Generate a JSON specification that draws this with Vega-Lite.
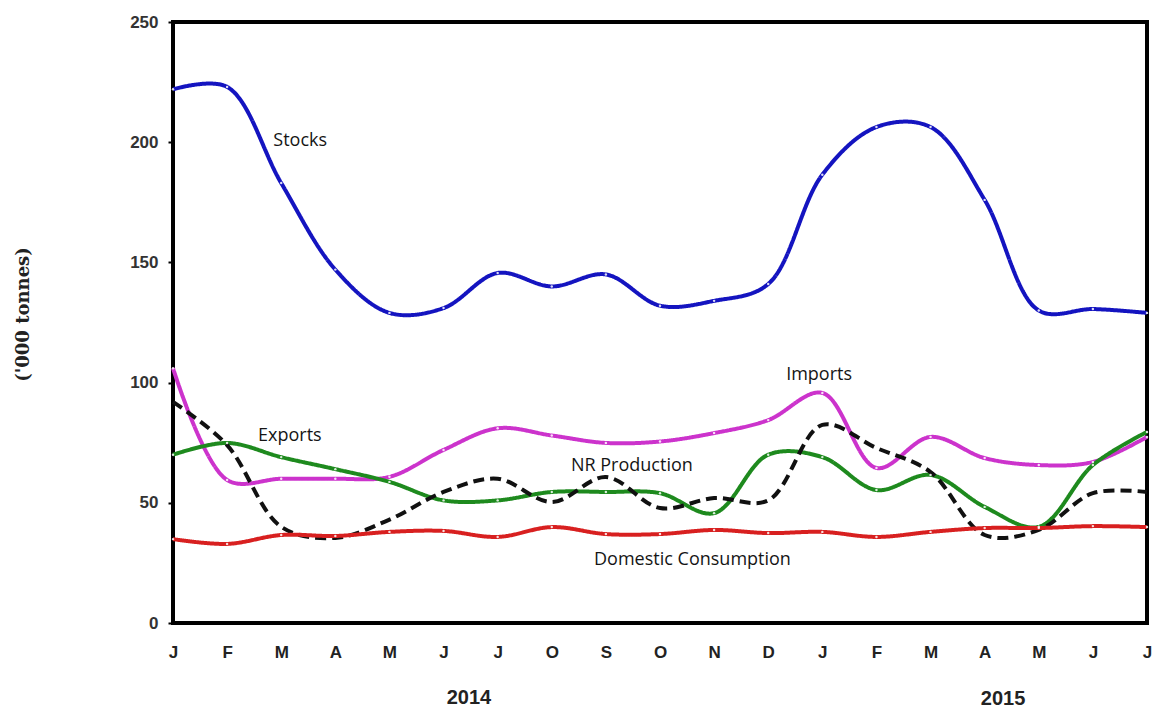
{
  "$schema": "https://vega.github.io/schema/vega-lite/v6.json",
  "width": 974,
  "height": 601,
  "autosize": {"type": "none"},
  "padding": {"left": 173, "top": 22, "right": 7, "bottom": 85},
  "background": "white",
  "config": {
    "view": {"stroke": "black", "strokeWidth": 4},
    "font": "Liberation Sans"
  },
  "datasets": {
    "series": [
      {"idx": 0, "series": "Stocks", "value": 222},
      {"idx": 1, "series": "Stocks", "value": 223},
      {"idx": 2, "series": "Stocks", "value": 183},
      {"idx": 3, "series": "Stocks", "value": 147},
      {"idx": 4, "series": "Stocks", "value": 129},
      {"idx": 5, "series": "Stocks", "value": 131},
      {"idx": 6, "series": "Stocks", "value": 145.6},
      {"idx": 7, "series": "Stocks", "value": 140},
      {"idx": 8, "series": "Stocks", "value": 145},
      {"idx": 9, "series": "Stocks", "value": 132},
      {"idx": 10, "series": "Stocks", "value": 134},
      {"idx": 11, "series": "Stocks", "value": 141},
      {"idx": 12, "series": "Stocks", "value": 186.5},
      {"idx": 13, "series": "Stocks", "value": 206.3},
      {"idx": 14, "series": "Stocks", "value": 206.3},
      {"idx": 15, "series": "Stocks", "value": 176},
      {"idx": 16, "series": "Stocks", "value": 130},
      {"idx": 17, "series": "Stocks", "value": 130.6},
      {"idx": 18, "series": "Stocks", "value": 129},
      {"idx": 0, "series": "Imports", "value": 106},
      {"idx": 1, "series": "Imports", "value": 59.5},
      {"idx": 2, "series": "Imports", "value": 60},
      {"idx": 3, "series": "Imports", "value": 60},
      {"idx": 4, "series": "Imports", "value": 60.8},
      {"idx": 5, "series": "Imports", "value": 72},
      {"idx": 6, "series": "Imports", "value": 81},
      {"idx": 7, "series": "Imports", "value": 78},
      {"idx": 8, "series": "Imports", "value": 74.9},
      {"idx": 9, "series": "Imports", "value": 75.5},
      {"idx": 10, "series": "Imports", "value": 79},
      {"idx": 11, "series": "Imports", "value": 84.4},
      {"idx": 12, "series": "Imports", "value": 95.7},
      {"idx": 13, "series": "Imports", "value": 64.5},
      {"idx": 14, "series": "Imports", "value": 77.4},
      {"idx": 15, "series": "Imports", "value": 68.6},
      {"idx": 16, "series": "Imports", "value": 65.7},
      {"idx": 17, "series": "Imports", "value": 67},
      {"idx": 18, "series": "Imports", "value": 77.4},
      {"idx": 0, "series": "Exports", "value": 70},
      {"idx": 1, "series": "Exports", "value": 74.9},
      {"idx": 2, "series": "Exports", "value": 69},
      {"idx": 3, "series": "Exports", "value": 64},
      {"idx": 4, "series": "Exports", "value": 58.7},
      {"idx": 5, "series": "Exports", "value": 51},
      {"idx": 6, "series": "Exports", "value": 51},
      {"idx": 7, "series": "Exports", "value": 54.5},
      {"idx": 8, "series": "Exports", "value": 54.5},
      {"idx": 9, "series": "Exports", "value": 54},
      {"idx": 10, "series": "Exports", "value": 45.7},
      {"idx": 11, "series": "Exports", "value": 70},
      {"idx": 12, "series": "Exports", "value": 69},
      {"idx": 13, "series": "Exports", "value": 55.3},
      {"idx": 14, "series": "Exports", "value": 61.6},
      {"idx": 15, "series": "Exports", "value": 48.3},
      {"idx": 16, "series": "Exports", "value": 40},
      {"idx": 17, "series": "Exports", "value": 65.7},
      {"idx": 18, "series": "Exports", "value": 79.5},
      {"idx": 0, "series": "NR Production", "value": 92},
      {"idx": 1, "series": "NR Production", "value": 74},
      {"idx": 2, "series": "NR Production", "value": 40},
      {"idx": 3, "series": "NR Production", "value": 35.4},
      {"idx": 4, "series": "NR Production", "value": 43},
      {"idx": 5, "series": "NR Production", "value": 54.5},
      {"idx": 6, "series": "NR Production", "value": 60},
      {"idx": 7, "series": "NR Production", "value": 50.3},
      {"idx": 8, "series": "NR Production", "value": 60.7},
      {"idx": 9, "series": "NR Production", "value": 47.8},
      {"idx": 10, "series": "NR Production", "value": 52},
      {"idx": 11, "series": "NR Production", "value": 51},
      {"idx": 12, "series": "NR Production", "value": 82.4},
      {"idx": 13, "series": "NR Production", "value": 72.8},
      {"idx": 14, "series": "NR Production", "value": 62.8},
      {"idx": 15, "series": "NR Production", "value": 36.6},
      {"idx": 16, "series": "NR Production", "value": 38.7},
      {"idx": 17, "series": "NR Production", "value": 54},
      {"idx": 18, "series": "NR Production", "value": 54.5},
      {"idx": 0, "series": "Domestic Consumption", "value": 34.9},
      {"idx": 1, "series": "Domestic Consumption", "value": 32.9},
      {"idx": 2, "series": "Domestic Consumption", "value": 36.6},
      {"idx": 3, "series": "Domestic Consumption", "value": 36.2},
      {"idx": 4, "series": "Domestic Consumption", "value": 37.9},
      {"idx": 5, "series": "Domestic Consumption", "value": 38.3},
      {"idx": 6, "series": "Domestic Consumption", "value": 35.8},
      {"idx": 7, "series": "Domestic Consumption", "value": 39.9},
      {"idx": 8, "series": "Domestic Consumption", "value": 37},
      {"idx": 9, "series": "Domestic Consumption", "value": 37},
      {"idx": 10, "series": "Domestic Consumption", "value": 38.7},
      {"idx": 11, "series": "Domestic Consumption", "value": 37.4},
      {"idx": 12, "series": "Domestic Consumption", "value": 37.9},
      {"idx": 13, "series": "Domestic Consumption", "value": 35.8},
      {"idx": 14, "series": "Domestic Consumption", "value": 37.9},
      {"idx": 15, "series": "Domestic Consumption", "value": 39.5},
      {"idx": 16, "series": "Domestic Consumption", "value": 39.5},
      {"idx": 17, "series": "Domestic Consumption", "value": 40.3},
      {"idx": 18, "series": "Domestic Consumption", "value": 39.9}
    ],
    "labels": [
      {"x": 2.35, "y": 200.5, "text": "Stocks"},
      {"x": 2.16, "y": 77.8, "text": "Exports"},
      {"x": 11.94, "y": 103, "text": "Imports"},
      {"x": 8.48, "y": 65.3, "text": "NR Production"},
      {"x": 9.6, "y": 26.2, "text": "Domestic Consumption"}
    ],
    "years": [
      {"x": 5.47, "y": -31.1, "text": "2014"},
      {"x": 15.34, "y": -31.6, "text": "2015"}
    ]
  },
  "layer": [
    {
      "data": {"name": "series"},
      "mark": {"type": "line", "interpolate": "catmull-rom", "strokeWidth": 4},
      "encoding": {
        "x": {
          "field": "idx",
          "type": "quantitative",
          "scale": {"domain": [0, 18], "nice": false, "zero": false},
          "axis": {
            "values": [0,1,2,3,4,5,6,7,8,9,10,11,12,13,14,15,16,17,18],
            "labelExpr": "['J','F','M','A','M','J','J','O','S','O','N','D','J','F','M','A','M','J','J'][datum.value]",
            "title": null,
            "grid": false,
            "ticks": false,
            "domain": false,
            "labelPadding": 21,
            "labelFontSize": 17,
            "labelFontWeight": "bold",
            "labelColor": "#222222",
            "labelFlush": false
          }
        },
        "y": {
          "field": "value",
          "type": "quantitative",
          "scale": {"domain": [0, 250], "nice": false},
          "axis": {
            "values": [0, 50, 100, 150, 200, 250],
            "title": "('000 tonnes)",
            "titleFont": "DejaVu Serif",
            "titleFontSize": 18,
            "titleFontWeight": "bold",
            "titleColor": "#222222",
            "titleAngle": -90,
            "titleX": -150,
            "titleY": 292,
            "titleAlign": "center",
            "titleBaseline": "middle",
            "grid": false,
            "domain": false,
            "tickSize": 5,
            "tickWidth": 2,
            "tickColor": "black",
            "labelPadding": 10,
            "labelFontSize": 17,
            "labelFontWeight": "bold",
            "labelColor": "#333333"
          }
        },
        "color": {
          "field": "series",
          "type": "nominal",
          "scale": {
            "domain": ["NR Production", "Exports", "Imports", "Domestic Consumption", "Stocks"],
            "range": ["#111111", "#1e8a1e", "#cc33cc", "#d82020", "#1414c0"]
          },
          "legend": null
        },
        "strokeDash": {
          "field": "series",
          "type": "nominal",
          "scale": {
            "domain": ["NR Production", "Exports", "Imports", "Domestic Consumption", "Stocks"],
            "range": [[11, 6], [1, 0], [1, 0], [1, 0], [1, 0]]
          },
          "legend": null
        }
      }
    },
    {
      "data": {"name": "series"},
      "transform": [{"filter": "datum.series !== 'NR Production'"}],
      "mark": {"type": "point", "filled": true, "color": "white", "size": 6, "opacity": 0.85},
      "encoding": {
        "x": {"field": "idx", "type": "quantitative"},
        "y": {"field": "value", "type": "quantitative"}
      }
    },
    {
      "data": {"name": "labels"},
      "mark": {"type": "text", "font": "Open Sans", "fontSize": 18, "color": "#151515", "align": "center", "baseline": "middle"},
      "encoding": {
        "x": {"field": "x", "type": "quantitative"},
        "y": {"field": "y", "type": "quantitative"},
        "text": {"field": "text"}
      }
    },
    {
      "data": {"name": "years"},
      "mark": {"type": "text", "font": "Liberation Sans", "fontSize": 20, "fontWeight": "bold", "color": "#222222", "align": "center", "baseline": "middle", "clip": false},
      "encoding": {
        "x": {"field": "x", "type": "quantitative"},
        "y": {"field": "y", "type": "quantitative"},
        "text": {"field": "text"}
      }
    }
  ]
}
